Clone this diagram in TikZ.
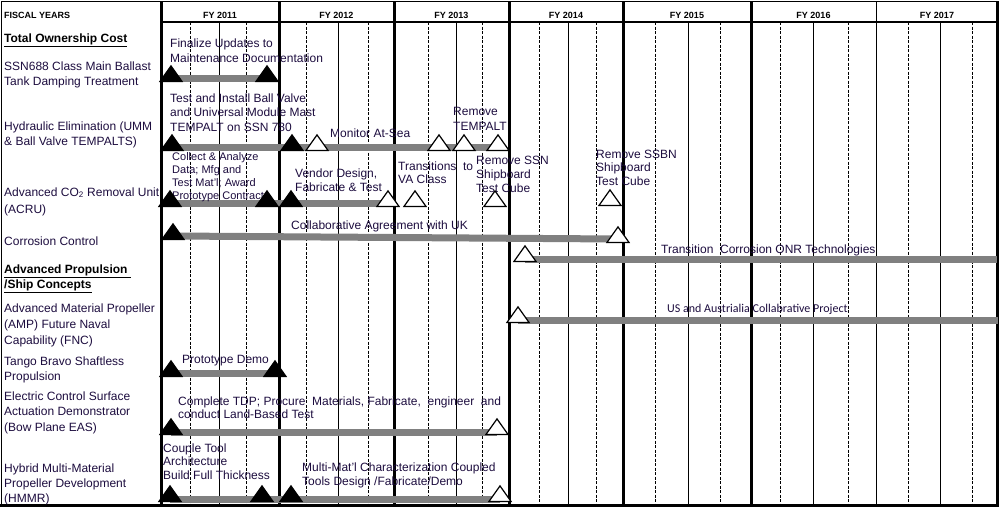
\documentclass[tikz,border=0pt]{standalone}
\usepackage{fontspec}
\setmainfont{Liberation Sans}
\newfontfamily\calfont{Carlito}
\usetikzlibrary{shapes.geometric}
\definecolor{ink}{RGB}{28,12,62}
\definecolor{barc}{RGB}{128,128,128}
\pgfdeclarelayer{grid}
\pgfdeclarelayer{bars}
\pgfsetlayers{grid,bars,main}

\begin{document}
\begin{tikzpicture}[x=1pt, y=-1pt,
  lbl/.style={anchor=base west, inner sep=0, align=left, text=ink, font=\fontsize{12}{15}\selectfont},
  head/.style={anchor=base west, inner sep=0, align=left, font=\bfseries\fontsize{12}{15}\selectfont},
  yr/.style={anchor=base, inner sep=0, font=\bfseries\fontsize{9}{10}\selectfont},
  ms/.style={isosceles triangle, isosceles triangle stretches, shape border rotate=90,
    minimum width=22pt, minimum height=15.5pt, inner sep=0, draw, line width=1.2pt, anchor=lower side},
  msf/.style={ms, fill=black},
  mso/.style={ms, fill=white},
  bar/.style={draw=barc, line width=7pt},
  qdash/.style={line width=0.8pt, dash pattern=on 3pt off 1.5pt}]
\useasboundingbox (0,0) rectangle (1002,509);
\begin{pgfonlayer}{grid}
\draw[line width=1pt] (1,505) -- (1,1) -- (998,1);
\draw[line width=2.5pt] (161,22) -- (998,22);
\foreach \ya/\qa/\qb/\qc/\yb/\yr/\lw in {161/190/219/246/279/2011/3, 279/306/338/368/394/2012/3,
    394/428/456/482/509/2013/3, 509/539/568/596/623/2014/3, 623/655/688/720/751/2015/3,
    751/780/813/848/876/2016/3, 876/908/940/972/998/2017/1}{
  \node[yr] (fy\yr) at ({(\ya+\yb)/2},18) {FY \yr};
  \draw[qdash] (\qa,22) -- (\qa,505);
  \draw[line width=0.8pt] (\qb,22) -- (\qb,505);
  \draw[qdash] (\qc,22) -- (\qc,505);
  \draw[line width=\lw pt] (\ya,1) -- (\ya,505);
}
\draw[line width=3pt] (0,505.5) -- (998,505.5);
\draw[line width=3pt] (997.5,1) -- (997.5,507);
\end{pgfonlayer}
% multi-line texts sit on the baseline of their last line
\node[head, font=\bfseries\fontsize{9}{10}\selectfont] (fiscal) at (4,18) {FISCAL YEARS};
\node[head] (ownhead) at (4,42) {\underline{Total Ownership Cost}};
\node[lbl] (ssnlbl) at (4,85) {SSN688 Class Main Ballast\\Tank Damping Treatment};
\node[lbl] (hydlbl) at (4,145) {Hydraulic Elimination (UMM\\\& Ball Valve TEMPALTS)};
\node[lbl, font=\fontsize{12}{17}\selectfont] (acrulbl) at (4,213) {Advanced CO\textsubscript{2} Removal Unit\\(ACRU)};
\node[lbl] (corlbl) at (4,245) {Corrosion Control};
\node[head] (prophead) at (4,288) {\underline{Advanced Propulsion\ }\\\underline{/Ship Concepts}};
\node[lbl, font=\fontsize{12}{16}\selectfont] (amplbl) at (4,344) {Advanced Material Propeller\\(AMP) Future Naval\\Capability (FNC)};
\node[lbl] (tangolbl) at (4,380) {Tango Bravo Shaftless\\Propulsion};
\node[lbl, font=\fontsize{12}{15.5}\selectfont] (ecslbl) at (4,431) {Electric Control Surface\\Actuation Demonstrator\\(Bow Plane EAS)};
\node[lbl] (hmmrlbl) at (4,502) {Hybrid Multi-Material\\Propeller Development\\(HMMR)};
\node[lbl] (ssntxt) at (170,62) {Finalize Updates to\\Maintenance Documentation};
\node[lbl, font=\fontsize{12}{14.5}\selectfont] (hydtxt) at (170,131) {Test and Install Ball Valve\\and Universal Module Mast\\TEMPALT on SSN 780};
\node[lbl] (seatxt) at (330,137) {Monitor At-Sea};
\node[lbl] (remtxt) at (453,130) {Remove\\TEMPALT};
\node[lbl, font=\fontsize{11}{13}\selectfont] (collecttxt) at (172,199) {Collect \& Analyze\\Data; Mfg and\\Test Mat'l; Award\\Prototype Contract};
\node[lbl, font=\fontsize{12}{14}\selectfont] (vendortxt) at (295,191) {Vendor Design,\\Fabricate \& Test};
\node[lbl, font=\fontsize{12}{13.5}\selectfont] (vatxt) at (398,183.5) {Transitions~ to\\VA Class};
\node[lbl, font=\fontsize{12}{14}\selectfont] (cubetxt) at (476,192) {Remove SSN\\Shipboard\\Test Cube};
\node[lbl, font=\fontsize{12}{13.5}\selectfont] (ssbntxt) at (596,185) {Remove SSBN\\Shipboard\\Test Cube};
\node[lbl] (uktxt) at (291,229) {Collaborative Agreement with UK};
\node[lbl] (onrtxt) at (661,253) {Transition~ Corrosion ONR Technologies};
\node[lbl, font=\calfont\fontsize{12}{13}\selectfont] (austxt) at (667,312) {US and Austrialia Collabrative Project};
\node[lbl] (demotxt) at (182,363) {Prototype Demo};
\node[lbl, font=\fontsize{12}{13.5}\selectfont] (tdptxt) at (178,418.5) {Complete TDP; Procure~ Materials, Fabricate,~ engineer~ and\\conduct Land-Based Test};
\node[lbl, font=\fontsize{12}{13.5}\selectfont] (coupletxt) at (163,479) {Couple Tool\\Architecture\\Build Full Thickness};
\node[lbl, font=\fontsize{12}{14}\selectfont] (charactxt) at (302,485) {Multi-Mat'l Characterization Coupled\\Tools Design /Fabricate/Demo};
\node[msf] (s1) at (171,82) {};
\node[msf] (s2) at (267,82) {};
\node[msf] (h1) at (172,151) {};
\node[msf] (h2) at (292,151) {};
\node[mso] (h3) at (317,151) {};
\node[mso] (h4) at (439,151) {};
\node[mso] (h5) at (464,151) {};
\node[mso] (h6) at (498,151) {};
\node[msf] (a1) at (170,207) {};
\node[msf] (a2) at (267,207) {};
\node[msf] (a3) at (291,207) {};
\node[mso] (a4) at (388,207) {};
\node[mso] (a5) at (415,207) {};
\node[mso] (a6) at (495,207) {};
\node[mso] (a7) at (610,206) {};
\node[msf] (c1) at (173,240) {};
\node[mso] (c2) at (618,243) {};
\node[mso] (t1) at (525,262) {};
\coordinate (t2) at (997,262);
\node[mso] (p1) at (518,323) {};
\coordinate (p2) at (998,323);
\node[msf] (g1) at (171,377) {};
\node[msf] (g2) at (275,377) {};
\node[msf] (e1) at (171,435) {};
\node[mso] (e2) at (497,435) {};
\node[msf] (m1) at (170,502) {};
\node[msf] (m2) at (262,502) {};
\node[msf] (m3) at (291,502) {};
\node[mso] (m4) at (500,502) {};
\begin{pgfonlayer}{bars}
\draw[bar] ([yshift=4pt]s1.lower side) -- ([yshift=4pt]s2.lower side);
\draw[bar] ([yshift=4pt]h1.lower side) -- ([yshift=4pt]h6.lower side);
\draw[bar] ([yshift=4pt]a1.lower side) -- ([yshift=4pt]a4.lower side);
\draw[bar] ([yshift=4pt]c1.lower side) -- ([yshift=4pt]c2.lower side);
\draw[bar] ([yshift=3pt]t1.lower side) -- ([yshift=3pt]t2);
\draw[bar] ([yshift=3pt]p1.lower side) -- ([yshift=3pt]p2);
\draw[bar] ([yshift=4pt]g1.lower side) -- ([yshift=4pt]g2.lower side);
\draw[bar] ([yshift=3pt]e1.lower side) -- ([yshift=3pt]e2.lower side);
\draw[bar] ([yshift=3pt]m1.lower side) -- ([yshift=3pt]m4.lower side);
\end{pgfonlayer}
\end{tikzpicture}
\end{document}
